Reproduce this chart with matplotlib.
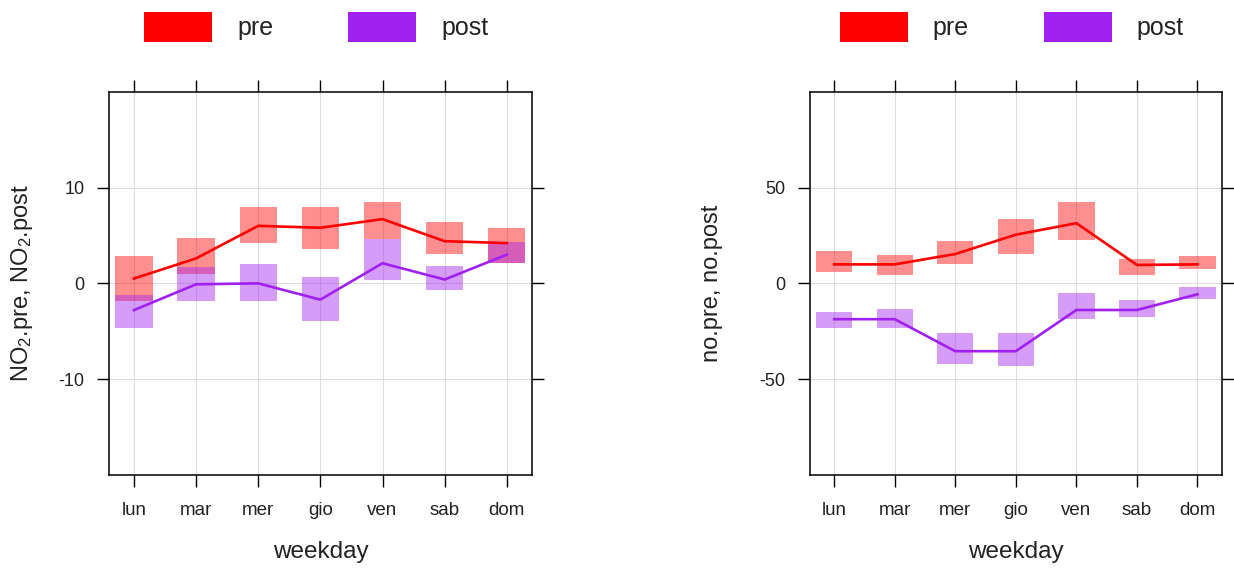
import numpy as np
import matplotlib
matplotlib.use("Agg")
import matplotlib.pyplot as plt
from matplotlib.patches import Patch

plt.rcParams['font.family'] = ['Liberation Sans', 'DejaVu Sans']
plt.rcParams['mathtext.fontset'] = 'custom'
plt.rcParams['mathtext.rm'] = 'Liberation Sans'
plt.rcParams['mathtext.it'] = 'Liberation Sans'

# weekday means with interval (lo, hi) for each period
days = ['lun', 'mar', 'mer', 'gio', 'ven', 'sab', 'dom']

no2_pre = [0.5, 2.6, 6.0, 5.8, 6.7, 4.4, 4.2]
no2_pre_lo = [-1.8, 1.0, 4.2, 3.6, 4.6, 3.1, 2.1]
no2_pre_hi = [2.9, 4.7, 8.0, 8.0, 8.5, 6.4, 5.8]
no2_post = [-2.8, -0.1, 0.0, -1.7, 2.1, 0.4, 3.0]
no2_post_lo = [-4.7, -1.8, -1.8, -3.9, 0.3, -0.7, 2.1]
no2_post_hi = [-1.2, 1.7, 2.0, 0.7, 4.6, 1.8, 4.3]

no_pre = [9.9, 9.9, 15.3, 25.4, 31.4, 9.6, 9.9]
no_pre_lo = [6.1, 4.5, 10.1, 15.3, 22.8, 4.5, 7.6]
no_pre_hi = [16.7, 14.9, 22.2, 33.5, 42.2, 12.7, 14.4]
no_post = [-18.7, -18.7, -35.4, -35.4, -13.9, -13.9, -5.7]
no_post_lo = [-23.2, -23.2, -42.3, -43.2, -18.4, -17.7, -8.3]
no_post_hi = [-14.7, -13.5, -26.0, -26.0, -5.2, -8.5, -2.1]

col_pre = '#FF0000'
col_post = '#A020F0'

fig = plt.figure(figsize=(12.34, 5.68), dpi=100)
W, H = 1234., 568.


def panel(rect, pre, pre_lo, pre_hi, post, post_lo, post_hi, ylim, yticks, ylabel, ylab_x):
    ax = fig.add_axes(rect)
    x = np.arange(1, len(days) + 1)
    for lo, hi, c in [(pre_lo, pre_hi, col_pre), (post_lo, post_hi, col_post)]:
        lo = np.array(lo)
        hi = np.array(hi)
        ax.bar(x, hi - lo, bottom=lo, width=0.6, color=c, alpha=0.44, linewidth=0, zorder=2)
    ax.plot(x, pre, color=col_pre, lw=1.9, zorder=3)
    ax.plot(x, post, color=col_post, lw=1.9, zorder=3)

    ax.set_xlim(0.6, 7.4)
    ax.set_ylim(*ylim)
    ax.set_xticks(x)
    ax.set_xticklabels(days)
    ax.set_yticks(yticks)
    ax.set_yticklabels([str(t) for t in yticks])
    ax.grid(True, color='#dedede', lw=0.8, zorder=0)
    ax.set_axisbelow(True)
    for s in ax.spines.values():
        s.set_linewidth(1.1)
    ax.tick_params(direction='out', length=8.6, width=1.0, top=True, right=True,
                   labeltop=False, labelright=False, labelcolor='#222222')
    ax.tick_params(axis='x', labelsize=13.5, pad=10.5)
    ax.tick_params(axis='y', labelsize=13, pad=9)
    ax.set_xlabel('weekday', fontsize=17.5, va='center', color='#222222')
    ax.xaxis.set_label_coords(0.5, -0.2)
    ax.set_ylabel(ylabel, fontsize=17, va='center', color='#222222')
    ax.yaxis.set_label_coords(ylab_x, 0.5)

    handles = [Patch(facecolor=col_pre, edgecolor='none', label='pre'),
               Patch(facecolor=col_post, edgecolor='none', label='post')]
    cx = rect[0] + rect[2] / 2 - 4 / W
    fig.legend(handles=handles, loc='center', bbox_to_anchor=(cx, 1 - 26.7 / H),
               ncol=2, frameon=False, fontsize=18, handlelength=2.72, handleheight=1.45,
               handletextpad=1.0, columnspacing=3.0, labelcolor='#222222')
    return ax


bottom = 1 - 475 / H
height = (475 - 91.7) / H
panel([109 / W, bottom, (531.7 - 109) / W, height],
      no2_pre, no2_pre_lo, no2_pre_hi, no2_post, no2_post_lo, no2_post_hi,
      (-20, 20), [-10, 0, 10], r'NO$_2$.pre, NO$_2$.post', -0.206)
panel([810 / W, bottom, (1221.7 - 810) / W, height],
      no_pre, no_pre_lo, no_pre_hi, no_post, no_post_lo, no_post_hi,
      (-100, 100), [-50, 0, 50], 'no.pre, no.post', -0.237)

fig.savefig('out.png', dpi=100)
